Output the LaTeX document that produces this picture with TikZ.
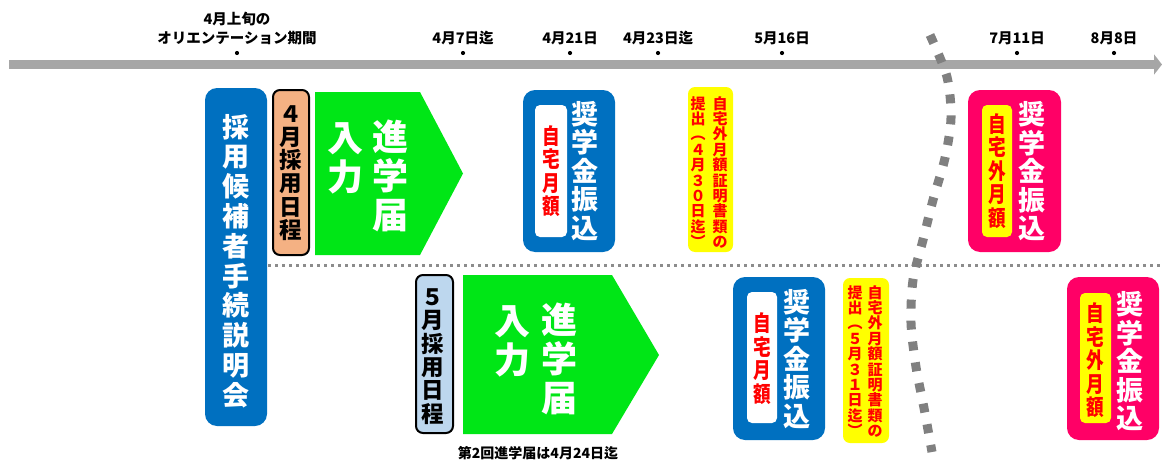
\documentclass[tikz,border=0pt]{standalone}
\usepackage{fontspec}
\usepackage{tikz}
\usetikzlibrary{positioning}
\usetikzlibrary{arrows.meta}

\newfontfamily\jp{Noto Sans CJK JP}
\newfontfamily\jpnarrow{Noto Sans CJK JP}[FakeStretch=0.8]
\lineskiplimit=-100pt

\definecolor{barGray}{RGB}{166,166,166}
\definecolor{sepGray}{RGB}{128,128,128}
\definecolor{dotGray}{RGB}{140,140,140}
\definecolor{boxBlue}{RGB}{0,112,192}
\definecolor{entryGreen}{RGB}{0,230,22}
\definecolor{payPink}{RGB}{255,0,102}
\definecolor{noteYellow}{RGB}{255,255,0}
\definecolor{schedOrange}{RGB}{244,177,131}
\definecolor{schedBlue}{RGB}{189,215,238}

\tikzset{
	tickdot/.style={circle, fill=black, inner sep=0pt, minimum size=4.2pt},
	datelabel/.style={font=\jp\bfseries\fontsize{14.5}{19}\selectfont, align=center, inner sep=0pt},
	panel/.style={rounded corners=12pt, inner sep=0pt},
	inpanel/.style={rounded corners=5pt, inner sep=0pt},
	vcol/.style={align=center, inner sep=0pt},
	whitecol/.style={vcol, text=white, font=\jp\bfseries\fontsize{27}{28.5}\selectfont},
	redcol/.style={vcol, text=red, font=\jpnarrow\bfseries\fontsize{22}{23.5}\selectfont},
	notecol/.style={vcol, text=red, anchor=north, font=\jp\bfseries\fontsize{15}{15.4}\selectfont},
	greencol/.style={vcol, text=white, anchor=north, font=\jp\bfseries\fontsize{36}{39}\selectfont},
	schedcol/.style={vcol, font=\jp\bfseries\fontsize{22.5}{23.3}\selectfont},
}

\begin{document}
\begin{tikzpicture}[x=1pt, y=-1pt]

	\useasboundingbox (0,0) rectangle (1162,463);

	\coordinate (tl_start) at (9,64.5);
	\coordinate (tl_end) at (1162,64.5);
	\path[draw, barGray, line width=9pt, -{Triangle[length=8pt, width=20pt]}] (tl_start) -- (tl_end);

	\node (d_orient) [tickdot] at (237,53) {};
	\node (d_0407) [tickdot] at (463,53) {};
	\node (d_0421) [tickdot] at (570,53) {};
	\node (d_0423) [tickdot] at (658,53) {};
	\node (d_0516) [tickdot] at (782,53) {};
	\node (d_0711) [tickdot] at (1017,53) {};
	\node (d_0808) [tickdot] at (1114,53) {};

	\node (l_orient) [datelabel, above=6pt of d_orient] {4月上旬の\\オリエンテーション期間};
	\node (l_0407) [datelabel, above=6pt of d_0407] {4月7日迄};
	\node (l_0421) [datelabel, above=6pt of d_0421] {4月21日};
	\node (l_0423) [datelabel, above=6pt of d_0423] {4月23日迄};
	\node (l_0516) [datelabel, above=6pt of d_0516] {5月16日};
	\node (l_0711) [datelabel, above=6pt of d_0711] {7月11日};
	\node (l_0808) [datelabel, above=6pt of d_0808] {8月8日};

	\coordinate (div_start) at (268,265);
	\coordinate (div_end) at (1162,265);
	\path[draw, dotGray, line width=3pt, dash pattern=on 3pt off 4pt] (div_start) -- (div_end);

	% explanation meeting
	\node (meeting) [panel, fill=boxBlue, minimum width=62pt, minimum height=338pt] at (236,257) {};
	\node (meeting_t) [whitecol, font=\jp\bfseries\fontsize{27}{29.8}\selectfont] at (236,261) {採\\用\\候\\補\\者\\手\\続\\説\\明\\会};

	% april schedule
	\node (apr) [panel, rounded corners=7pt, draw=black, line width=2pt, fill=schedOrange, minimum width=36pt, minimum height=165pt] at (291,172.5) {};
	\node (apr_t) [schedcol] at (291,173) {４\\月\\採\\用\\日\\程};

	\path[fill=entryGreen] (315,92) -- (420,92) -- (463,173.5) -- (420,255) -- (315,255) -- cycle;
	\node (apr_entry_r) [greencol] at (390,120) {進\\学\\届};
	\node (apr_entry_l) [greencol] at (345,122) {入\\力};

	\node (pay1) [panel, fill=boxBlue, minimum width=92pt, minimum height=162pt] at (569,171) {};
	\node (pay1_in) [inpanel, fill=white, minimum width=32pt, minimum height=132pt] at (551,171) {};
	\node (pay1_red) [redcol] at (551,171) {自\\宅\\月\\額};
	\node (pay1_t) [whitecol] at (585,171) {奨\\学\\金\\振\\込};

	\node (note1) [panel, rounded corners=7pt, fill=noteYellow, minimum width=45pt, minimum height=165pt] at (710.5,169.5) {};
	\node (note1_r) [notecol] at (720,96) {自\\宅\\外\\月\\額\\証\\明\\書\\類\\の};
	\node (note1_l) [notecol] at (698,96) {提\\出\\︵\\４\\月\\３\\０\\日\\迄\\︶};

	\node (pay3) [panel, fill=payPink, minimum width=93pt, minimum height=162pt] at (1014.5,171) {};
	\node (pay3_in) [inpanel, fill=noteYellow, minimum width=30pt, minimum height=132pt] at (997,171) {};
	\node (pay3_red) [redcol] at (997,171) {自\\宅\\外\\月\\額};
	\node (pay3_t) [whitecol] at (1032,171.5) {奨\\学\\金\\振\\込};

	% may schedule
	\node (may) [panel, rounded corners=7pt, draw=black, line width=2pt, fill=schedBlue, minimum width=37pt, minimum height=158pt] at (434.5,354) {};
	\node (may_t) [schedcol] at (433,356.5) {５\\月\\採\\用\\日\\程};

	\path[fill=entryGreen] (463,275) -- (612,275) -- (659,355) -- (612,434) -- (463,434) -- cycle;
	\node (may_entry_r) [greencol] at (559,303) {進\\学\\届};
	\node (may_entry_l) [greencol] at (512,305) {入\\力};
	\node (may_cap) [inner sep=0pt, font=\jp\bfseries\fontsize{14}{16}\selectfont] at (538,453) {第2回進学届は4月24日迄};

	\node (pay2) [panel, fill=boxBlue, minimum width=92pt, minimum height=163pt] at (779,358.5) {};
	\node (pay2_in) [inpanel, fill=white, minimum width=30pt, minimum height=131pt] at (762,357.5) {};
	\node (pay2_red) [redcol] at (762,358.5) {自\\宅\\月\\額};
	\node (pay2_t) [whitecol] at (797,359) {奨\\学\\金\\振\\込};

	\node (note2) [panel, rounded corners=7pt, fill=noteYellow, minimum width=46pt, minimum height=165pt] at (866,360.5) {};
	\node (note2_r) [notecol] at (875,285) {自\\宅\\外\\月\\額\\証\\明\\書\\類\\の};
	\node (note2_l) [notecol] at (855,285) {提\\出\\︵\\５\\月\\３\\１\\日\\迄\\︶};

	\node (pay4) [panel, fill=payPink, minimum width=92pt, minimum height=163pt] at (1113,358.5) {};
	\node (pay4_in) [inpanel, fill=noteYellow, minimum width=31pt, minimum height=130pt] at (1095.5,358) {};
	\node (pay4_red) [redcol] at (1095.5,360.5) {自\\宅\\外\\月\\額};
	\node (pay4_t) [whitecol] at (1130,361.5) {奨\\学\\金\\振\\込};

	% summer break
	\path[draw, sepGray, line width=9pt, dash pattern=on 9pt off 12pt] plot[smooth] coordinates {(930,35) (947,77) (951,118) (945,158) (933,200) (923,240) (913,280) (911,323) (916,367) (924,408) (932,452)};

\end{tikzpicture}
\end{document}
